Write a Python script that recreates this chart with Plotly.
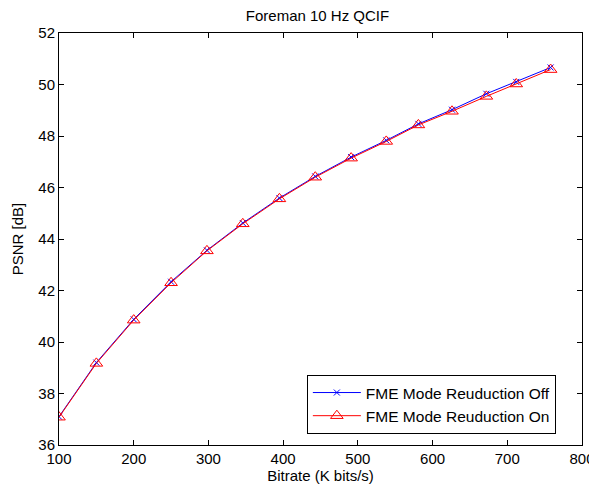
import plotly.graph_objects as go

bitrate = [100, 150, 200, 250, 298, 346, 395, 443, 491, 538, 581, 626, 672, 712, 758]
psnr_off = [37.10, 39.20, 40.88, 42.34, 43.56, 44.62, 45.59, 46.43, 47.18, 47.83, 48.47, 49.02, 49.64, 50.10, 50.66]
psnr_on = [37.08, 39.17, 40.85, 42.30, 43.54, 44.59, 45.56, 46.40, 47.14, 47.79, 48.43, 48.96, 49.54, 50.02, 50.58]

series_names = ["FME Mode Reuduction Off", "FME Mode Reuduction On"]

font_family = "Liberation Sans, Arial, sans-serif"

fig = go.Figure()
fig.add_trace(go.Scatter(
    x=bitrate, y=psnr_off, mode="lines+markers", name=series_names[0],
    line=dict(color="#0000ff", width=1),
    marker=dict(symbol="x-thin", size=6, color="#0000ff", line=dict(color="#0000ff", width=1)),
))
fig.add_trace(go.Scatter(
    x=bitrate, y=psnr_on, mode="lines+markers", name=series_names[1],
    line=dict(color="#ff0000", width=1),
    marker=dict(symbol="triangle-up-open", size=11, color="#ff0000", line=dict(color="#ff0000", width=1)),
))

axis_common = dict(
    showline=True, linecolor="black", linewidth=1, mirror="ticks",
    ticks="inside", ticklen=5, tickcolor="black", showgrid=False, zeroline=False,
    automargin=False,
    tickfont=dict(family=font_family, size=15, color="black"),
)

fig.update_layout(
    width=589, height=487,
    margin=dict(l=51, r=15, t=25, b=50),
    paper_bgcolor="white", plot_bgcolor="white",
    font=dict(family=font_family, size=15, color="black"),
    title=dict(text="Foreman 10 Hz QCIF", x=0.5255, xanchor="center", y=0.984, yanchor="middle",
               font=dict(family=font_family, size=15, color="black")),
    xaxis=dict(range=[100, 800], tickvals=[100, 200, 300, 400, 500, 600, 700, 800],
               title=dict(text="Bitrate (K bits/s)", standoff=4,
                          font=dict(family=font_family, size=15)), **axis_common),
    yaxis=dict(range=[36, 52], tickvals=[36, 38, 40, 42, 44, 46, 48, 50, 52],
               title=dict(text="PSNR [dB]", standoff=11,
                          font=dict(family=font_family, size=15)), **axis_common),
    legend=dict(x=0.950, y=0.17, xanchor="right", yanchor="top",
                bgcolor="white", bordercolor="black", borderwidth=1,
                font=dict(family=font_family, size=15.5, color="black"),
                tracegroupgap=0, itemwidth=48),
    showlegend=True,
)

fig.write_html("out.html")
